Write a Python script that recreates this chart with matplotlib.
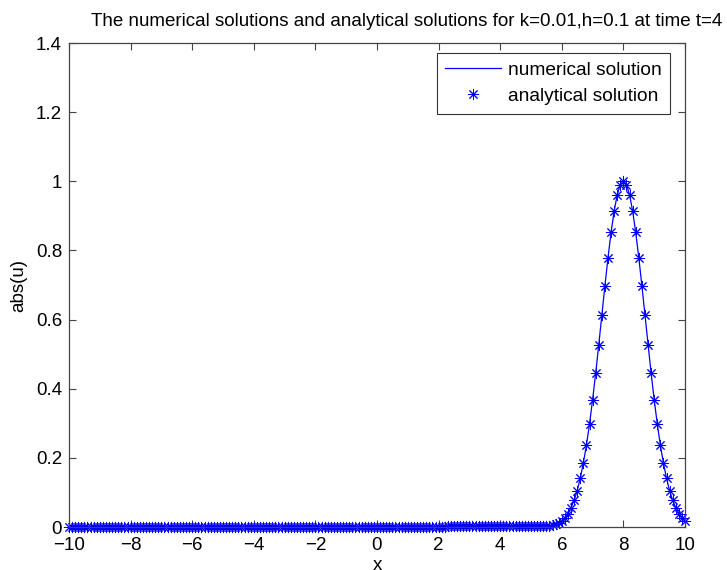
import numpy as np
import matplotlib
matplotlib.use("Agg")
import matplotlib.pyplot as plt

plt.rcParams['font.family'] = ['Liberation Sans', 'DejaVu Sans']

# grid x = -10:0.1:10 (201 points)
x_start, x_end, n_points = -10.0, 10.0, 201

# values
u_flat = [
    0.0, 0.0, 0.0, 0.0, 0.0, 0.0, 0.0, 0.0, 0.0, 0.0, 0.0, 0.0, 0.0, 0.0, 0.0, 0.0, 0.0, 0.0, 0.0, 0.0,
    0.0, 0.0, 0.0, 0.0, 0.0, 0.0, 0.0, 0.0, 0.0, 0.0, 0.0, 0.0, 0.0, 0.0, 0.0, 0.0, 0.0, 0.0, 0.0, 0.0,
    0.0, 0.0, 0.0, 0.0, 0.0, 0.0, 0.0, 0.0, 0.0, 0.0, 0.0, 0.0, 0.0, 0.0, 0.0, 0.0, 0.0, 0.0, 0.0, 0.0,
    0.0, 0.0, 0.0, 0.0, 0.0, 0.0, 0.0, 0.0, 0.0, 0.0, 0.0, 0.0, 0.0, 0.0, 0.0, 0.0, 0.0, 0.0, 0.0, 0.0,
    0.0, 0.0, 0.0, 0.0, 0.0, 0.0, 0.0, 0.0, 0.0, 0.0, 0.0, 0.0, 0.0, 0.0, 0.0, 0.0, 0.0, 0.0, 0.0, 0.0,
    0.0, 0.0, 0.0, 0.0, 0.0, 0.0, 0.0, 0.0, 0.0, 0.0, 0.0, 0.0, 0.0, 0.0, 0.0, 0.0, 0.0, 0.0, 0.0, 0.0,
    0.0, 0.0, 0.0,
]
u_plateau = [
    0.003, 0.003, 0.003, 0.003, 0.003, 0.003, 0.003, 0.003, 0.003, 0.003,
    0.003, 0.003, 0.003, 0.003, 0.003, 0.003, 0.003, 0.003, 0.003, 0.003,
    0.003, 0.003, 0.003, 0.003, 0.003, 0.003, 0.003, 0.003, 0.003, 0.003,
    0.003, 0.003, 0.003, 0.004, 0.005,
]
u_pulse = [
    0.008, 0.012, 0.018, 0.027, 0.039, 0.056, 0.077, 0.105, 0.141, 0.185,
    0.237, 0.298, 0.368, 0.445, 0.527, 0.613, 0.698, 0.779, 0.852, 0.914,
    0.961, 0.990, 1.000, 0.990, 0.961, 0.914, 0.852, 0.779, 0.698, 0.613,
    0.527, 0.445, 0.368, 0.298, 0.237, 0.185, 0.141, 0.105, 0.077, 0.056,
    0.039, 0.027, 0.018,
]

x_ticks = [-10, -8, -6, -4, -2, 0, 2, 4, 6, 8, 10]
y_ticks = [0, 0.2, 0.4, 0.6, 0.8, 1.0, 1.2, 1.4]
y_ticklabels = ['0', '0.2', '0.4', '0.6', '0.8', '1', '1.2', '1.4']

title = "The numerical solutions and analytical solutions for k=0.01,h=0.1 at time t=4"

x = np.linspace(x_start, x_end, n_points)
u_numerical = np.array(u_flat + u_plateau + u_pulse)
u_analytical = np.array(u_flat + u_plateau + u_pulse)

fig = plt.figure(figsize=(7.27, 5.70), dpi=100)
ax = fig.add_axes([69/727, 1 - 527/570, (685 - 69)/727, (527 - 43)/570])

ax.plot(x, u_numerical, color=(0, 0, 1), lw=0.9, label='numerical solution')
ax.plot(x, u_analytical, linestyle='none', marker=(8, 2, 0), markersize=8,
        markeredgewidth=0.7, color=(0, 0, 1), label='analytical solution', clip_on=False)

ax.set_xlim(-10, 10)
ax.set_ylim(0, 1.4)
ax.set_xticks(x_ticks)
ax.set_xticklabels([str(t).replace('-', '\u2212') for t in x_ticks])
ax.set_yticks(y_ticks)
ax.set_yticklabels(y_ticklabels)
ax.tick_params(direction='in', length=5, width=0.8, top=True, right=True,
               labelsize=13.5, colors='#000000')
ax.tick_params(axis='x', pad=7)
ax.tick_params(axis='y', pad=5)
for s in ax.spines.values():
    s.set_color('#444444')
    s.set_linewidth(0.9)
ax.tick_params(color='#444444')

ax.set_ylabel('abs(u)', fontsize=13.5, labelpad=6)
ax.set_xlabel('x', fontsize=13.5, labelpad=2)

fig.text(407/727, 1 - 21/570, title, ha='center', va='center', fontsize=13.5)

leg = ax.legend(loc='upper right', bbox_to_anchor=(670/727, 1 - 53/570),
                bbox_transform=fig.transFigure, fontsize=13.8, frameon=True,
                fancybox=False, edgecolor='black', handlelength=2.9,
                borderpad=0.45, labelspacing=0.45, handletextpad=0.35, borderaxespad=0)
leg.get_frame().set_linewidth(0.8)

fig.savefig('out.png', dpi=100)
